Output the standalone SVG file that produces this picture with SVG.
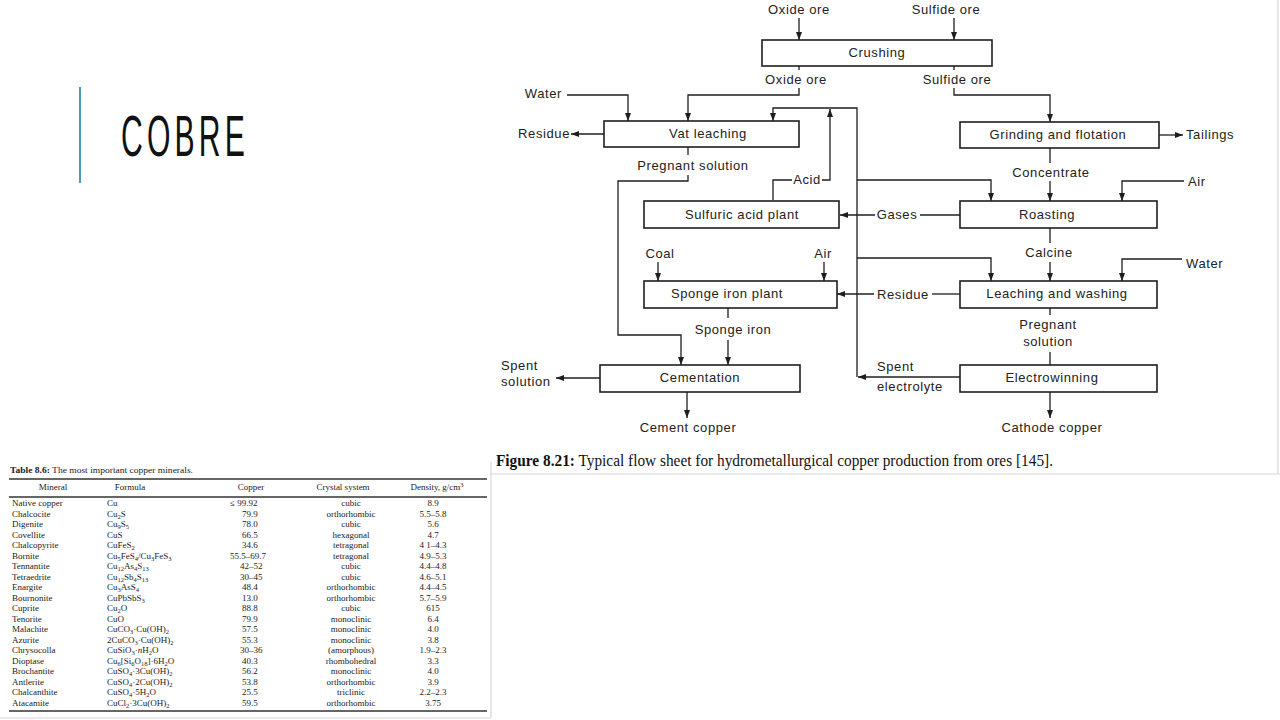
<svg xmlns="http://www.w3.org/2000/svg" width="1280" height="720" viewBox="0 0 1280 720">
<defs>
<marker id="ah" markerUnits="userSpaceOnUse" markerWidth="9" markerHeight="6" refX="8" refY="3" orient="auto">
<path d="M0,0 L8,3 L0,6 z" fill="#1e1e1e"/>
</marker>
<style>
.box{fill:#fff;stroke:#1e1e1e;stroke-width:1.6}
.ln{fill:none;stroke:#1e1e1e;stroke-width:1.3}
.ar{fill:none;stroke:#1e1e1e;stroke-width:1.3;marker-end:url(#ah)}
.t{font-family:"Liberation Sans","DejaVu Sans",sans-serif;font-size:13px;letter-spacing:0.6px;fill:#222}
.c{text-anchor:middle}
.e{text-anchor:end}
.tb{font-family:"Liberation Serif","DejaVu Serif",serif;font-size:9px;fill:#222}
.s{font-size:6.5px;baseline-shift:-2px}
.sp{font-size:6.5px;baseline-shift:3px}
.rule{stroke:#333;stroke-width:1.3}
.frame{stroke:#d8d8d8;stroke-width:1.2;fill:none}
</style>
</defs>
<rect width="1280" height="720" fill="#fff"/>

<g id="title">
<line x1="80" y1="87" x2="80" y2="183" stroke="#4a9fb5" stroke-width="2"/>
<text transform="translate(121,156) scale(0.52,1)" x="0" y="0" font-family="Liberation Sans, DejaVu Sans, sans-serif" font-size="58" letter-spacing="8" fill="#111">COBRE</text>
</g>

<g id="frame">
<path class="frame" d="M1278,0 V474 M490,474 H1280"/>
<path class="frame" d="M491,462 V718 M0,718 H491"/>
</g>

<g id="connectors">
<path class="ar" d="M799,18 V40"/>
<path class="ar" d="M954,18 V40"/>
<path class="ln" d="M799,66 V70 M954,66 V70"/>
<path class="ar" d="M799,88 V95 H688 V121"/>
<path class="ar" d="M567,95 H628 V121"/>
<path class="ar" d="M604,134 H571"/>
<path class="ln" d="M688,147 V155"/>
<path class="ar" d="M688,175 V181 H618 V335 H681 V365"/>
<path class="ar" d="M954,88 V95 H1050 V122"/>
<path class="ar" d="M1159,135 H1183"/>
<path class="ln" d="M1050,148 V163"/>
<path class="ar" d="M1050,181 V201"/>
<path class="ar" d="M1184,181 H1122 V201"/>
<path class="ar" d="M857,180 H991 V201"/>
<path class="ln" d="M960,215 H920"/>
<path class="ar" d="M875,215 H840"/>
<path class="ln" d="M773,200 V180 H792"/>
<path class="ar" d="M822,180 H830 V109"/>
<path class="ar" d="M960,377 H858"/>
<path class="ar" d="M857,377 V108 H773 V121"/>
<path class="ar" d="M857,258 H991 V281"/>
<path class="ln" d="M1050,228 V243"/>
<path class="ar" d="M1050,262 V281"/>
<path class="ar" d="M1182,259 H1122 V281"/>
<path class="ln" d="M960,294 H932"/>
<path class="ar" d="M874,294 H837"/>
<path class="ar" d="M658,262 V281"/>
<path class="ar" d="M824,262 V281"/>
<path class="ln" d="M728,308 V318"/>
<path class="ar" d="M728,340 V365"/>
<path class="ar" d="M600,378 H556"/>
<path class="ar" d="M687,392 V418"/>
<path class="ln" d="M1050,308 V315 M1050,352 V365"/>
<path class="ar" d="M1050,392 V418"/>
</g>

<g id="labels">
<text class="t c" x="799" y="14">Oxide ore</text>
<text class="t c" x="946" y="14">Sulfide ore</text>
<text class="t c" x="796" y="84">Oxide ore</text>
<text class="t c" x="957" y="84">Sulfide ore</text>
<text class="t e" x="562" y="98">Water</text>
<text class="t e" x="570" y="138">Residue</text>
<text class="t c" x="693" y="170">Pregnant solution</text>
<text class="t c" x="807" y="184">Acid</text>
<text class="t c" x="897" y="219">Gases</text>
<text class="t" x="1186" y="139">Tailings</text>
<text class="t c" x="1051" y="177">Concentrate</text>
<text class="t" x="1188" y="186">Air</text>
<text class="t c" x="1049" y="257">Calcine</text>
<text class="t" x="1186" y="268">Water</text>
<text class="t c" x="660" y="258">Coal</text>
<text class="t c" x="823" y="258">Air</text>
<text class="t c" x="903" y="299">Residue</text>
<text class="t c" x="733" y="334">Sponge iron</text>
<text class="t c" x="1048" y="329">Pregnant</text>
<text class="t c" x="1048" y="346">solution</text>
<text class="t" x="501" y="370">Spent</text>
<text class="t" x="501" y="386">solution</text>
<text class="t" x="877" y="371">Spent</text>
<text class="t" x="877" y="391">electrolyte</text>
<text class="t c" x="688" y="432">Cement copper</text>
<text class="t c" x="1052" y="432">Cathode copper</text>
</g>

<g id="crushing"><rect class="box" x="762" y="40" width="230" height="26"/><text class="t c" x="877" y="57">Crushing</text></g>
<g id="vat-leaching"><rect class="box" x="604" y="121" width="195" height="26"/><text class="t c" x="708" y="138">Vat leaching</text></g>
<g id="grinding"><rect class="box" x="960" y="122" width="199" height="26"/><text class="t c" x="1058" y="139">Grinding and flotation</text></g>
<g id="sulfuric-acid-plant"><rect class="box" x="644" y="201" width="195" height="27"/><text class="t c" x="742" y="219">Sulfuric acid plant</text></g>
<g id="roasting"><rect class="box" x="960" y="201" width="197" height="27"/><text class="t c" x="1047" y="219">Roasting</text></g>
<g id="sponge-iron-plant"><rect class="box" x="644" y="281" width="193" height="27"/><text class="t c" x="727" y="298">Sponge iron plant</text></g>
<g id="leaching-washing"><rect class="box" x="960" y="281" width="197" height="27"/><text class="t c" x="1057" y="298">Leaching and washing</text></g>
<g id="cementation"><rect class="box" x="600" y="365" width="200" height="27"/><text class="t c" x="700" y="382">Cementation</text></g>
<g id="electrowinning"><rect class="box" x="960" y="365" width="197" height="27"/><text class="t c" x="1052" y="382">Electrowinning</text></g>

<g id="caption">
<text x="496" y="466" font-family="Liberation Serif, DejaVu Serif, serif" font-size="16" fill="#111" textLength="557" lengthAdjust="spacingAndGlyphs"><tspan font-weight="bold">Figure 8.21:</tspan> Typical flow sheet for hydrometallurgical copper production from ores [145].</text>
</g>

<g id="table">
<text class="tb" x="10" y="473" textLength="183" lengthAdjust="spacingAndGlyphs"><tspan font-weight="bold">Table 8.6:</tspan> The most important copper minerals.</text>
<line class="rule" x1="9" y1="479" x2="487" y2="479"/>
<line class="rule" x1="9" y1="497" x2="487" y2="497"/>
<line class="rule" x1="9" y1="711" x2="487" y2="711"/>
<text class="tb" text-anchor="middle" x="53" y="490">Mineral</text>
<text class="tb" text-anchor="middle" x="130" y="490">Formula</text>
<text class="tb" text-anchor="middle" x="251" y="490">Copper</text>
<text class="tb" text-anchor="middle" x="343" y="490">Crystal system</text>
<text class="tb" text-anchor="middle" x="437" y="490">Density, g/cm<tspan class="sp">3</tspan></text>

<g class="tb">
<text x="12" y="506">Native copper</text>
<text x="12" y="516.5">Chalcocite</text>
<text x="12" y="527">Digenite</text>
<text x="12" y="537.5">Covellite</text>
<text x="12" y="548">Chalcopyrite</text>
<text x="12" y="558.5">Bornite</text>
<text x="12" y="569">Tennantite</text>
<text x="12" y="579.5">Tetraedrite</text>
<text x="12" y="590">Enargite</text>
<text x="12" y="600.5">Bournonite</text>
<text x="12" y="611">Cuprite</text>
<text x="12" y="621.5">Tenorite</text>
<text x="12" y="632">Malachite</text>
<text x="12" y="642.5">Azurite</text>
<text x="12" y="653">Chrysocolla</text>
<text x="12" y="663.5">Dioptase</text>
<text x="12" y="674">Brochantite</text>
<text x="12" y="684.5">Antlerite</text>
<text x="12" y="695">Chalcanthite</text>
<text x="12" y="705.5">Atacamite</text>
</g>

<g class="tb">
<text x="107" y="506">Cu</text>
<text x="107" y="516.5">Cu<tspan class="s">2</tspan>S</text>
<text x="107" y="527">Cu<tspan class="s">9</tspan>S<tspan class="s">5</tspan></text>
<text x="107" y="537.5">CuS</text>
<text x="107" y="548">CuFeS<tspan class="s">2</tspan></text>
<text x="107" y="558.5">Cu<tspan class="s">5</tspan>FeS<tspan class="s">4</tspan>/Cu<tspan class="s">3</tspan>FeS<tspan class="s">3</tspan></text>
<text x="107" y="569">Cu<tspan class="s">12</tspan>As<tspan class="s">4</tspan>S<tspan class="s">13</tspan></text>
<text x="107" y="579.5">Cu<tspan class="s">12</tspan>Sb<tspan class="s">4</tspan>S<tspan class="s">13</tspan></text>
<text x="107" y="590">Cu<tspan class="s">3</tspan>AsS<tspan class="s">4</tspan></text>
<text x="107" y="600.5">CuPbSbS<tspan class="s">3</tspan></text>
<text x="107" y="611">Cu<tspan class="s">2</tspan>O</text>
<text x="107" y="621.5">CuO</text>
<text x="107" y="632">CuCO<tspan class="s">3</tspan>·Cu(OH)<tspan class="s">2</tspan></text>
<text x="107" y="642.5">2CuCO<tspan class="s">3</tspan>·Cu(OH)<tspan class="s">2</tspan></text>
<text x="107" y="653">CuSiO<tspan class="s">3</tspan>·<tspan font-style="italic">n</tspan>H<tspan class="s">2</tspan>O</text>
<text x="107" y="663.5">Cu<tspan class="s">6</tspan>[Si<tspan class="s">6</tspan>O<tspan class="s">18</tspan>]·6H<tspan class="s">2</tspan>O</text>
<text x="107" y="674">CuSO<tspan class="s">4</tspan>·3Cu(OH)<tspan class="s">2</tspan></text>
<text x="107" y="684.5">CuSO<tspan class="s">4</tspan>·2Cu(OH)<tspan class="s">2</tspan></text>
<text x="107" y="695">CuSO<tspan class="s">4</tspan>·5H<tspan class="s">2</tspan>O</text>
<text x="107" y="705.5">CuCl<tspan class="s">2</tspan>·3Cu(OH)<tspan class="s">2</tspan></text>
</g>

<g class="tb">
<text x="230" y="506">≤ 99.92</text>
<text x="242" y="516.5">79.9</text>
<text x="242" y="527">78.0</text>
<text x="242" y="537.5">66.5</text>
<text x="242" y="548">34.6</text>
<text x="230" y="558.5">55.5–69.7</text>
<text x="240" y="569">42–52</text>
<text x="240" y="579.5">30–45</text>
<text x="242" y="590">48.4</text>
<text x="242" y="600.5">13.0</text>
<text x="242" y="611">88.8</text>
<text x="242" y="621.5">79.9</text>
<text x="242" y="632">57.5</text>
<text x="242" y="642.5">55.3</text>
<text x="240" y="653">30–36</text>
<text x="242" y="663.5">40.3</text>
<text x="242" y="674">56.2</text>
<text x="242" y="684.5">53.8</text>
<text x="242" y="695">25.5</text>
<text x="242" y="705.5">59.5</text>
</g>

<g class="tb" text-anchor="middle">
<text x="351" y="506">cubic</text>
<text x="351" y="516.5">orthorhombic</text>
<text x="351" y="527">cubic</text>
<text x="351" y="537.5">hexagonal</text>
<text x="351" y="548">tetragonal</text>
<text x="351" y="558.5">tetragonal</text>
<text x="351" y="569">cubic</text>
<text x="351" y="579.5">cubic</text>
<text x="351" y="590">orthorhombic</text>
<text x="351" y="600.5">orthorhombic</text>
<text x="351" y="611">cubic</text>
<text x="351" y="621.5">monoclinic</text>
<text x="351" y="632">monoclinic</text>
<text x="351" y="642.5">monoclinic</text>
<text x="351" y="653">(amorphous)</text>
<text x="351" y="663.5">rhombohedral</text>
<text x="351" y="674">monoclinic</text>
<text x="351" y="684.5">orthorhombic</text>
<text x="351" y="695">triclinic</text>
<text x="351" y="705.5">orthorhombic</text>
</g>

<g class="tb" text-anchor="middle">
<text x="433" y="506">8.9</text>
<text x="433" y="516.5">5.5–5.8</text>
<text x="433" y="527">5.6</text>
<text x="433" y="537.5">4.7</text>
<text x="433" y="548">4 1–4.3</text>
<text x="433" y="558.5">4.9–5.3</text>
<text x="433" y="569">4.4–4.8</text>
<text x="433" y="579.5">4.6–5.1</text>
<text x="433" y="590">4.4–4.5</text>
<text x="433" y="600.5">5.7–5.9</text>
<text x="433" y="611">615</text>
<text x="433" y="621.5">6.4</text>
<text x="433" y="632">4.0</text>
<text x="433" y="642.5">3.8</text>
<text x="433" y="653">1.9–2.3</text>
<text x="433" y="663.5">3.3</text>
<text x="433" y="674">4.0</text>
<text x="433" y="684.5">3.9</text>
<text x="433" y="695">2.2–2.3</text>
<text x="433" y="705.5">3.75</text>
</g>
</g>
</svg>
